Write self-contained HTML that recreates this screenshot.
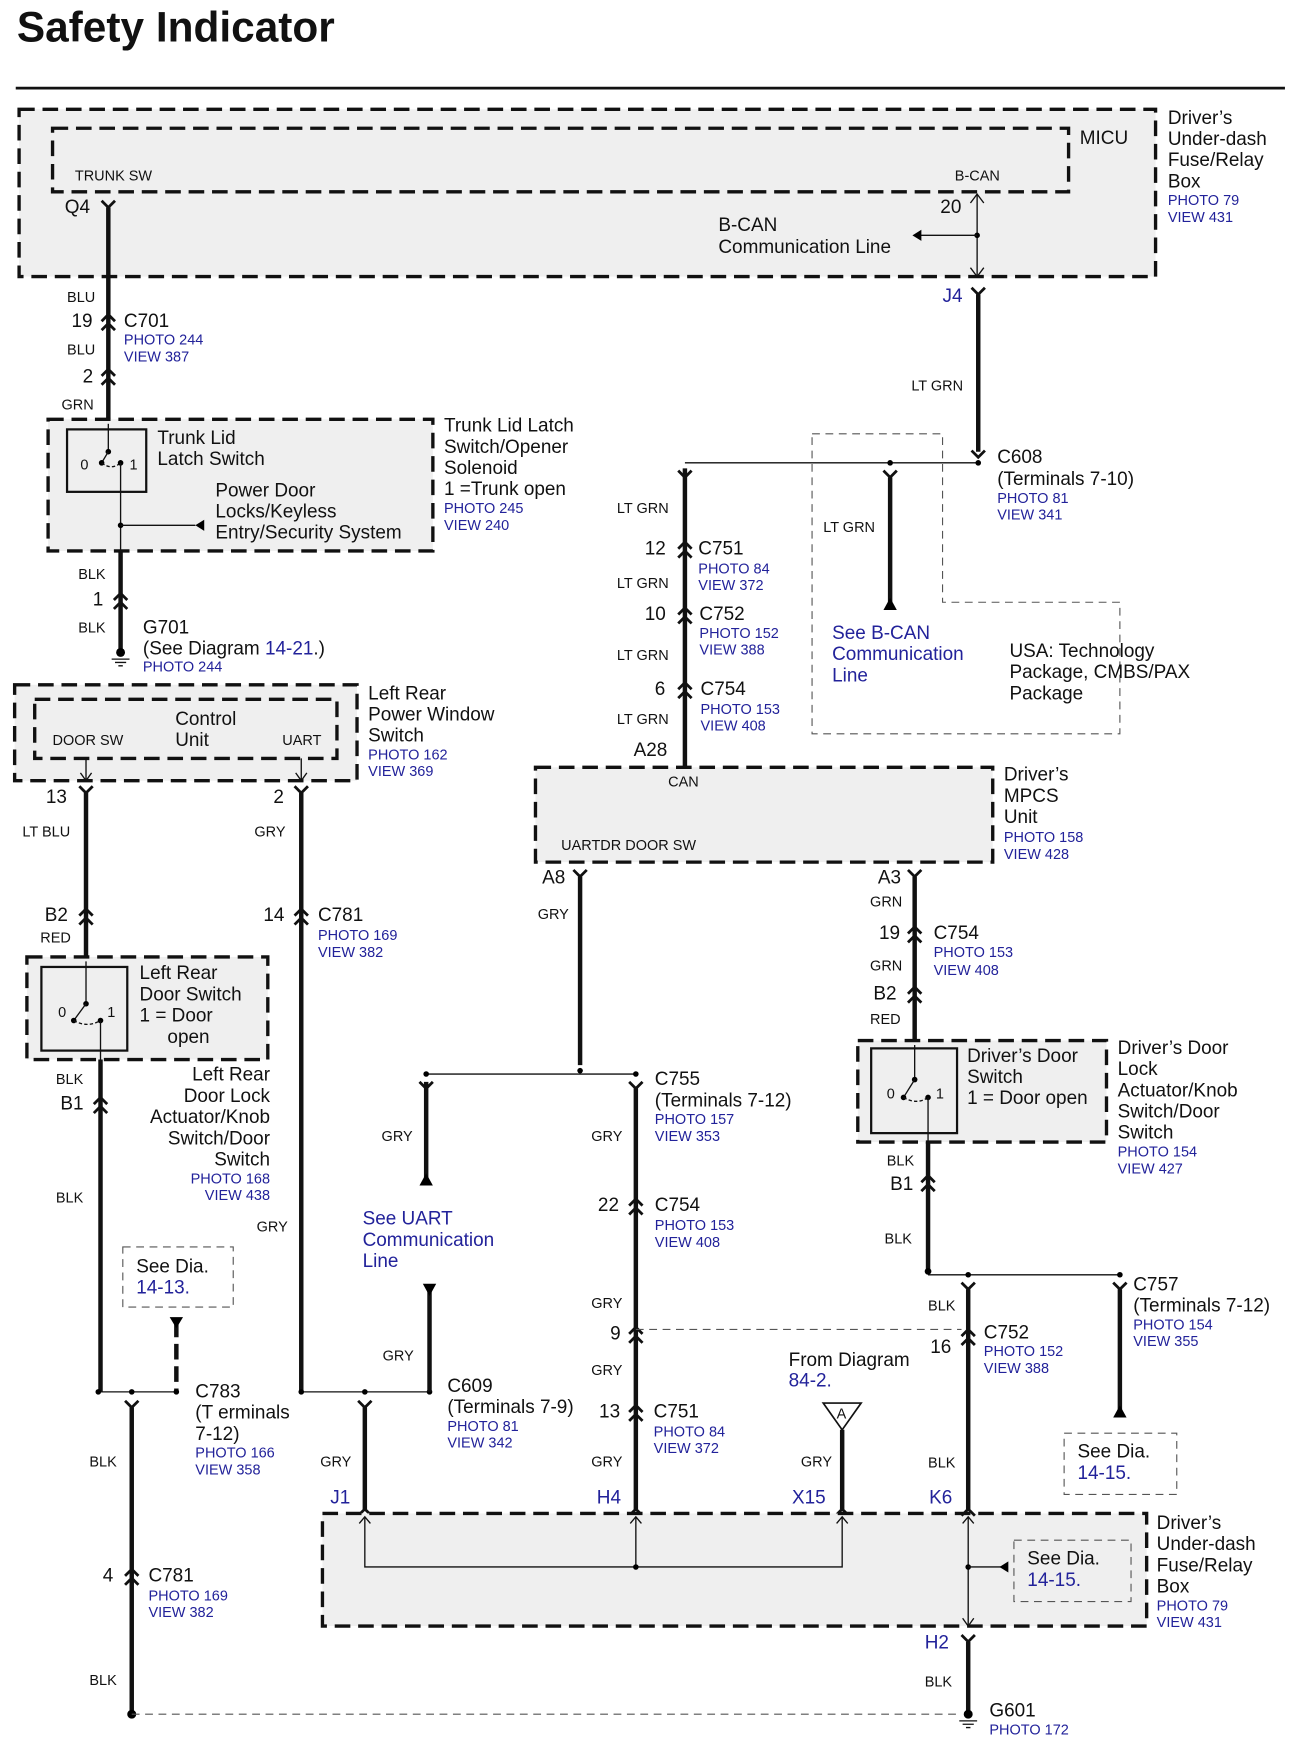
<!DOCTYPE html>
<html><head><meta charset="utf-8"><style>
html,body{margin:0;padding:0;background:#fff;}
svg{display:block;}
text{font-family:"Liberation Sans",Arial,sans-serif;fill:#111;}
.t{font-size:17px;}
.s{font-size:13px;}
.b{font-size:13px;fill:#22229a;}
.bl{font-size:17px;fill:#22229a;}
.w{stroke:#111;stroke-width:4;fill:none;}
.th{stroke:#111;stroke-width:1.2;fill:none;}
.box{fill:#efefef;stroke:#111;stroke-width:3;stroke-dasharray:14 7;}
.dd{fill:none;stroke:#555;stroke-width:1;stroke-dasharray:7 5;}
.cn{stroke:#111;stroke-width:2.5;fill:none;}
</style></head><body>
<svg width="1294" height="1751" viewBox="0 0 1160 1570" xmlns="http://www.w3.org/2000/svg">
<defs>
<path id="c" d="M-6,-2 L0,-8 L6,-2 M-6,6 L0,0 L6,6" class="cn"/>
<path id="y" d="M-6,-6 L0,0 L6,-6" class="cn"/>
<path id="sw" d="M0,-20 V-10 M0,-10 L-9,6 M-9,6 Q5,14 10,6" class="th"/>
</defs>
<text x="15" y="37" style="font-size:38px;font-weight:bold">Safety Indicator</text>
<line x1="14" y1="79" x2="1152" y2="79" stroke="#111" stroke-width="2.5"/>

<!-- Top fuse box -->
<rect x="17" y="98" width="1019" height="150" class="box"/>
<rect x="47" y="115" width="911" height="57" class="box"/>
<text x="968" y="129" class="t">MICU</text>
<text x="1047" y="111" class="t">Driver’s</text><text x="1047" y="130" class="t">Under-dash</text><text x="1047" y="149" class="t">Fuse/Relay</text><text x="1047" y="168" class="t">Box</text>
<text x="1047" y="184" class="b">PHOTO 79</text><text x="1047" y="199" class="b">VIEW 431</text>
<text x="67" y="162" class="s">TRUNK SW</text><text x="856" y="162" class="s">B-CAN</text>
<text x="58" y="191" class="t">Q4</text>
<use href="#y" x="97" y="186"/>
<line x1="97" y1="186" x2="97" y2="382" class="w"/>
<text x="843" y="191" class="t">20</text>
<line x1="876" y1="174" x2="876" y2="248" class="th"/>
<path d="M870,182 L876,174 L882,182 M870,240 L876,248 L882,240" class="th"/>
<circle cx="876" cy="211" r="2.5"/><line x1="876" y1="211" x2="824" y2="211" class="th"/>
<path d="M818,211 L826,206 L826,216Z"/>
<text x="644" y="207" class="t">B-CAN</text><text x="644" y="227" class="t">Communication Line</text>
<text x="845" y="271" class="bl">J4</text>
<use href="#y" x="877" y="264"/>
<line x1="877" y1="264" x2="877" y2="405" class="w"/>
<text x="817" y="350" class="s">LT GRN</text>

<!-- C701 -->
<text x="60" y="271" class="s">BLU</text>
<text x="64" y="293" class="t">19</text><use href="#c" x="97" y="290"/>
<text x="111" y="293" class="t">C701</text><text x="111" y="309" class="b">PHOTO 244</text><text x="111" y="324" class="b">VIEW 387</text>
<text x="60" y="318" class="s">BLU</text>
<text x="74" y="343" class="t">2</text><use href="#c" x="97" y="339"/>
<text x="55" y="367" class="s">GRN</text>

<!-- Trunk box -->
<rect x="43" y="376" width="345" height="118" class="box"/>
<rect x="60" y="385" width="71" height="56" fill="none" stroke="#111" stroke-width="2"/>
<line x1="97" y1="380" x2="97" y2="405" class="th"/><circle cx="97" cy="405" r="2.5"/>
<line x1="97" y1="405" x2="91" y2="415" class="th"/><circle cx="91" cy="415" r="2.5"/>
<path d="M91,415 Q100,422 108,415" class="th" stroke-dasharray="3 2"/><circle cx="108" cy="415" r="2.5"/>
<text x="72" y="421" class="s">0</text><text x="116" y="421" class="s">1</text>
<line x1="108" y1="415" x2="108" y2="500" class="th"/>
<circle cx="108" cy="471" r="2.5"/><line x1="108" y1="471" x2="175" y2="471" class="th"/><path d="M175,471 L183,466 L183,476Z"/>
<text x="141" y="398" class="t">Trunk Lid</text><text x="141" y="417" class="t">Latch Switch</text>
<text x="193" y="445" class="t">Power Door</text><text x="193" y="464" class="t">Locks/Keyless</text><text x="193" y="483" class="t">Entry/Security System</text>
<text x="398" y="387" class="t">Trunk Lid Latch</text><text x="398" y="406" class="t">Switch/Opener</text><text x="398" y="425" class="t">Solenoid</text><text x="398" y="444" class="t">1 =Trunk open</text>
<text x="398" y="460" class="b">PHOTO 245</text><text x="398" y="475" class="b">VIEW 240</text>
<line x1="108" y1="494" x2="108" y2="583" class="w"/>
<text x="70" y="519" class="s">BLK</text><text x="83" y="543" class="t">1</text><use href="#c" x="108" y="540"/>
<text x="70" y="567" class="s">BLK</text>
<circle cx="108" cy="585" r="4"/><path d="M100,591 H116 M103,594 H113 M106,597 H110" class="th"/>
<text x="128" y="568" class="t">G701</text><text x="128" y="587" class="t">(See Diagram <tspan fill="#22229a">14-21</tspan>.)</text><text x="128" y="602" class="b">PHOTO 244</text>

<!-- Left rear power window -->
<rect x="13" y="614" width="307" height="86" class="box"/>
<rect x="31" y="627" width="271" height="53" class="box"/>
<text x="157" y="650" class="t">Control</text><text x="157" y="669" class="t">Unit</text>
<text x="47" y="668" class="s">DOOR SW</text><text x="253" y="668" class="s">UART</text>
<text x="330" y="627" class="t">Left Rear</text><text x="330" y="646" class="t">Power Window</text><text x="330" y="665" class="t">Switch</text>
<text x="330" y="681" class="b">PHOTO 162</text><text x="330" y="696" class="b">VIEW 369</text>
<path d="M77,680 V700 M72,693 L77,700 L82,693 M270,680 V700 M265,693 L270,700 L275,693" class="th"/>
<use href="#y" x="77" y="711"/><use href="#y" x="270" y="711"/>
<line x1="77" y1="711" x2="77" y2="858" class="w"/>
<text x="41" y="720" class="t">13</text><text x="20" y="750" class="s">LT BLU</text>
<text x="40" y="826" class="t">B2</text><use href="#c" x="77" y="823"/><text x="36" y="845" class="s">RED</text>
<line x1="270" y1="711" x2="270" y2="1248" class="w"/>
<text x="245" y="720" class="t">2</text><text x="228" y="750" class="s">GRY</text>
<text x="236" y="826" class="t">14</text><use href="#c" x="270" y="823"/>
<text x="285" y="826" class="t">C781</text><text x="285" y="843" class="b">PHOTO 169</text><text x="285" y="858" class="b">VIEW 382</text>
<text x="230" y="1104" class="s">GRY</text>

<!-- Left rear door switch -->
<rect x="24" y="858" width="216" height="92" class="box"/>
<rect x="37" y="867" width="77" height="75" fill="none" stroke="#111" stroke-width="2"/>
<line x1="77" y1="862" x2="77" y2="900" class="th"/><circle cx="77" cy="900" r="2.5"/>
<line x1="77" y1="900" x2="66" y2="915" class="th"/><circle cx="66" cy="915" r="2.5"/>
<path d="M66,915 Q78,922 90,915" class="th" stroke-dasharray="3 2"/><circle cx="90" cy="915" r="2.5"/>
<text x="52" y="912" class="s">0</text><text x="96" y="912" class="s">1</text>
<line x1="90" y1="915" x2="90" y2="950" class="th"/>
<text x="125" y="878" class="t">Left Rear</text><text x="125" y="897" class="t">Door Switch</text><text x="125" y="916" class="t">1 = Door</text><text x="150" y="935" class="t">open</text>
<g text-anchor="end"><text x="242" y="969" class="t">Left Rear</text><text x="242" y="988" class="t">Door Lock</text><text x="242" y="1007" class="t">Actuator/Knob</text><text x="242" y="1026" class="t">Switch/Door</text><text x="242" y="1045" class="t">Switch</text><text x="242" y="1061" class="b">PHOTO 168</text><text x="242" y="1076" class="b">VIEW 438</text></g>
<line x1="90" y1="950" x2="90" y2="1248" class="w"/>
<text x="50" y="972" class="s">BLK</text><text x="54" y="995" class="t">B1</text><use href="#c" x="90" y="992"/><text x="50" y="1078" class="s">BLK</text>

<!-- See Dia 14-13 -->
<rect x="110" y="1118" width="99" height="54" class="dd" stroke="#333"/>
<rect x="118" y="1125" width="82" height="40" fill="#fff"/>
<text x="122" y="1141" class="t">See Dia.</text><text x="122" y="1160" class="bl">14-13.</text>
<line x1="158" y1="1185" x2="158" y2="1248" class="w" stroke-dasharray="14 6"/>
<path d="M152,1181 L164,1181 L158,1191Z"/>
<line x1="88" y1="1248" x2="160" y2="1248" class="th"/>
<circle cx="88" cy="1248" r="2.5"/><circle cx="118" cy="1248" r="2.5"/><circle cx="158" cy="1248" r="2.5"/>
<text x="175" y="1253" class="t">C783</text><text x="175" y="1272" class="t">(T erminals</text><text x="175" y="1291" class="t">7-12)</text>
<text x="175" y="1307" class="b">PHOTO 166</text><text x="175" y="1322" class="b">VIEW 358</text>
<use href="#y" x="118" y="1262"/>
<line x1="118" y1="1262" x2="118" y2="1535" class="w"/>
<text x="80" y="1315" class="s">BLK</text><text x="92" y="1418" class="t">4</text><use href="#c" x="118" y="1415"/>
<text x="133" y="1418" class="t">C781</text><text x="133" y="1435" class="b">PHOTO 169</text><text x="133" y="1450" class="b">VIEW 382</text>
<text x="80" y="1511" class="s">BLK</text>
<circle cx="118" cy="1537" r="4"/>
<line x1="118" y1="1537" x2="862" y2="1537" class="dd" stroke="#333"/>

<!-- C609 -->
<line x1="268" y1="1248" x2="385" y2="1248" class="th"/>
<circle cx="270" cy="1248" r="2.5"/><circle cx="327" cy="1248" r="2.5"/><circle cx="385" cy="1248" r="2.5"/>
<line x1="385" y1="1158" x2="385" y2="1248" class="w"/><path d="M379,1151 L391,1151 L385,1162Z"/>
<text x="343" y="1220" class="s">GRY</text>
<text x="401" y="1248" class="t">C609</text><text x="401" y="1267" class="t">(Terminals 7-9)</text><text x="401" y="1283" class="b">PHOTO 81</text><text x="401" y="1298" class="b">VIEW 342</text>
<use href="#y" x="327" y="1262"/>
<line x1="327" y1="1262" x2="327" y2="1353" class="w"/>
<path d="M321,1359 L327,1353 L333,1359" class="cn"/>
<text x="287" y="1315" class="s">GRY</text><text x="296" y="1348" class="bl">J1</text>

<text x="325" y="1098" class="bl">See UART</text><text x="325" y="1117" class="bl">Communication</text><text x="325" y="1136" class="bl">Line</text>
<line x1="382" y1="970" x2="382" y2="1056" class="w"/><path d="M376,1063 L388,1063 L382,1052Z"/>
<text x="342" y="1023" class="s">GRY</text>

<!-- MPCS -->
<rect x="480" y="688" width="410" height="85" class="box"/>
<text x="599" y="705" class="s">CAN</text><text x="503" y="762" class="s">UARTDR DOOR SW</text>
<text x="900" y="700" class="t">Driver’s</text><text x="900" y="719" class="t">MPCS</text><text x="900" y="738" class="t">Unit</text>
<text x="900" y="755" class="b">PHOTO 158</text><text x="900" y="770" class="b">VIEW 428</text>
<text x="568" y="678" class="t">A28</text>
<line x1="614" y1="420" x2="614" y2="688" class="w"/>
<line x1="614" y1="415" x2="877" y2="415" class="th"/>
<circle cx="798" cy="415" r="2.5"/><circle cx="877" cy="415" r="2.5"/>
<use href="#y" x="614" y="428"/><use href="#y" x="798" y="428"/>
<path d="M871,404 L877,410 L883,404" class="cn"/>
<text x="553" y="460" class="s">LT GRN</text>
<text x="578" y="497" class="t">12</text><use href="#c" x="614" y="494"/><text x="626" y="497" class="t">C751</text><text x="626" y="514" class="b">PHOTO 84</text><text x="626" y="529" class="b">VIEW 372</text>
<text x="553" y="527" class="s">LT GRN</text>
<text x="578" y="556" class="t">10</text><use href="#c" x="614" y="553"/><text x="627" y="556" class="t">C752</text><text x="627" y="572" class="b">PHOTO 152</text><text x="627" y="587" class="b">VIEW 388</text>
<text x="553" y="592" class="s">LT GRN</text>
<text x="587" y="623" class="t">6</text><use href="#c" x="614" y="620"/><text x="628" y="623" class="t">C754</text><text x="628" y="640" class="b">PHOTO 153</text><text x="628" y="655" class="b">VIEW 408</text>
<text x="553" y="649" class="s">LT GRN</text>
<text x="894" y="415" class="t">C608</text><text x="894" y="435" class="t">(Terminals 7-10)</text><text x="894" y="451" class="b">PHOTO 81</text><text x="894" y="466" class="b">VIEW 341</text>
<line x1="798" y1="428" x2="798" y2="540" class="w"/><path d="M792,547 L804,547 L798,536Z"/>
<text x="738" y="477" class="s">LT GRN</text>
<path d="M728,389 H845 V540 H1004 V658 H728 Z" class="dd"/>
<text x="746" y="573" class="bl">See B-CAN</text><text x="746" y="592" class="bl">Communication</text><text x="746" y="611" class="bl">Line</text>
<text x="905" y="589" class="t">USA: Technology</text><text x="905" y="608" class="t">Package, CMBS/PAX</text><text x="905" y="627" class="t">Package</text>

<!-- A8 / C755 -->
<use href="#y" x="520" y="786"/>
<line x1="520" y1="786" x2="520" y2="955" class="w"/>
<text x="486" y="792" class="t">A8</text><text x="482" y="824" class="s">GRY</text>
<line x1="382" y1="963" x2="570" y2="963" class="th"/>
<circle cx="382" cy="963" r="2.5"/><circle cx="520" cy="960" r="2.5"/><circle cx="570" cy="963" r="2.5"/>
<use href="#y" x="382" y="976"/><use href="#y" x="570" y="976"/>
<text x="587" y="973" class="t">C755</text><text x="587" y="992" class="t">(Terminals 7-12)</text><text x="587" y="1008" class="b">PHOTO 157</text><text x="587" y="1023" class="b">VIEW 353</text>
<line x1="570" y1="976" x2="570" y2="1353" class="w"/>
<path d="M564,1359 L570,1353 L576,1359" class="cn"/>
<text x="530" y="1023" class="s">GRY</text>
<text x="536" y="1086" class="t">22</text><use href="#c" x="570" y="1083"/><text x="587" y="1086" class="t">C754</text><text x="587" y="1103" class="b">PHOTO 153</text><text x="587" y="1118" class="b">VIEW 408</text>
<text x="530" y="1173" class="s">GRY</text>
<text x="547" y="1201" class="t">9</text><use href="#c" x="570" y="1198"/>
<line x1="570" y1="1192" x2="862" y2="1192" class="dd" stroke="#333"/>
<text x="530" y="1233" class="s">GRY</text>
<text x="537" y="1271" class="t">13</text><use href="#c" x="570" y="1268"/><text x="586" y="1271" class="t">C751</text><text x="586" y="1288" class="b">PHOTO 84</text><text x="586" y="1303" class="b">VIEW 372</text>
<text x="530" y="1315" class="s">GRY</text><text x="535" y="1348" class="bl">H4</text>

<text x="707" y="1225" class="t">From Diagram</text><text x="707" y="1243" class="bl">84-2.</text>
<path d="M738,1258 H772 L755,1282 Z" fill="#fff" stroke="#111" stroke-width="1.5"/>
<text x="750" y="1272" class="s">A</text>
<line x1="755" y1="1282" x2="755" y2="1353" class="w"/>
<path d="M749,1359 L755,1353 L761,1359" class="cn"/>
<text x="718" y="1315" class="s">GRY</text><text x="710" y="1348" class="bl">X15</text>

<!-- Bottom box -->
<rect x="289" y="1357" width="739" height="101" class="box"/>
<path d="M327,1360 V1405 H755 V1360 M570,1360 V1405 M868,1360 V1458" class="th"/>
<path d="M322,1366 L327,1360 L332,1366 M565,1366 L570,1360 L575,1366 M750,1366 L755,1360 L760,1366 M863,1366 L868,1360 L873,1366 M863,1451 L868,1458 L873,1451" class="th"/>
<circle cx="570" cy="1405" r="2.5"/><circle cx="868" cy="1405" r="2.5"/>
<line x1="868" y1="1405" x2="898" y2="1405" class="th"/><path d="M896,1405 L904,1400 L904,1410Z"/>
<rect x="909" y="1381" width="105" height="55" class="dd" stroke="#333"/>
<rect x="915" y="1386" width="93" height="44" fill="#efefef"/>
<text x="921" y="1403" class="t">See Dia.</text><text x="921" y="1422" class="bl">14-15.</text>
<text x="1037" y="1371" class="t">Driver’s</text><text x="1037" y="1390" class="t">Under-dash</text><text x="1037" y="1409" class="t">Fuse/Relay</text><text x="1037" y="1428" class="t">Box</text>
<text x="1037" y="1444" class="b">PHOTO 79</text><text x="1037" y="1459" class="b">VIEW 431</text>
<text x="829" y="1478" class="bl">H2</text>
<use href="#y" x="868" y="1472"/>
<line x1="868" y1="1472" x2="868" y2="1535" class="w"/>
<text x="829" y="1512" class="s">BLK</text>
<circle cx="868" cy="1537" r="4"/><path d="M860,1543 H876 M863,1546 H873 M866,1549 H870" class="th"/>
<text x="887" y="1539" class="t">G601</text><text x="887" y="1555" class="b">PHOTO 172</text>

<!-- Right side -->
<use href="#y" x="820" y="786"/>
<line x1="820" y1="786" x2="820" y2="933" class="w"/>
<text x="787" y="792" class="t">A3</text><text x="780" y="813" class="s">GRN</text>
<text x="788" y="842" class="t">19</text><use href="#c" x="820" y="839"/>
<text x="837" y="842" class="t">C754</text><text x="837" y="858" class="b">PHOTO 153</text><text x="837" y="874" class="b">VIEW 408</text>
<text x="780" y="870" class="s">GRN</text>
<text x="783" y="896" class="t">B2</text><use href="#c" x="820" y="893"/>
<text x="780" y="918" class="s">RED</text>
<rect x="769" y="933" width="223" height="91" class="box"/>
<rect x="781" y="940" width="77" height="76" fill="none" stroke="#111" stroke-width="2"/>
<line x1="820" y1="937" x2="820" y2="968" class="th"/><circle cx="820" cy="968" r="2.5"/>
<line x1="820" y1="968" x2="810" y2="984" class="th"/><circle cx="810" cy="984" r="2.5"/>
<path d="M810,984 Q822,991 832,984" class="th" stroke-dasharray="3 2"/><circle cx="832" cy="984" r="2.5"/>
<text x="795" y="985" class="s">0</text><text x="839" y="985" class="s">1</text>
<line x1="832" y1="984" x2="832" y2="1024" class="th"/>
<text x="867" y="952" class="t">Driver’s Door</text><text x="867" y="971" class="t">Switch</text><text x="867" y="990" class="t">1 = Door open</text>
<text x="1002" y="945" class="t">Driver’s Door</text><text x="1002" y="964" class="t">Lock</text><text x="1002" y="983" class="t">Actuator/Knob</text><text x="1002" y="1002" class="t">Switch/Door</text><text x="1002" y="1021" class="t">Switch</text>
<text x="1002" y="1037" class="b">PHOTO 154</text><text x="1002" y="1052" class="b">VIEW 427</text>
<line x1="832" y1="1024" x2="832" y2="1140" class="w"/>
<text x="795" y="1045" class="s">BLK</text><text x="798" y="1067" class="t">B1</text><use href="#c" x="832" y="1062"/>
<text x="793" y="1115" class="s">BLK</text>
<line x1="832" y1="1143" x2="1004" y2="1143" class="th"/>
<circle cx="832" cy="1140" r="3"/><circle cx="868" cy="1143" r="2.5"/><circle cx="1004" cy="1143" r="2.5"/>
<use href="#y" x="868" y="1156"/><use href="#y" x="1004" y="1156"/>
<line x1="868" y1="1156" x2="868" y2="1353" class="w"/>
<path d="M862,1359 L868,1353 L874,1359" class="cn"/>
<text x="832" y="1175" class="s">BLK</text>
<text x="834" y="1213" class="t">16</text><use href="#c" x="868" y="1200"/>
<text x="882" y="1200" class="t">C752</text><text x="882" y="1216" class="b">PHOTO 152</text><text x="882" y="1231" class="b">VIEW 388</text>
<text x="832" y="1316" class="s">BLK</text><text x="833" y="1348" class="bl">K6</text>
<text x="1016" y="1157" class="t">C757</text><text x="1016" y="1176" class="t">(Terminals 7-12)</text><text x="1016" y="1192" class="b">PHOTO 154</text><text x="1016" y="1207" class="b">VIEW 355</text>
<line x1="1004" y1="1156" x2="1004" y2="1264" class="w"/><path d="M998,1271 L1010,1271 L1004,1260Z"/>
<rect x="954" y="1285" width="101" height="55" class="dd" stroke="#333"/>
<rect x="960" y="1290" width="89" height="44" fill="#fff"/>
<text x="966" y="1307" class="t">See Dia.</text><text x="966" y="1326" class="bl">14-15.</text>
</svg>
</body></html>
